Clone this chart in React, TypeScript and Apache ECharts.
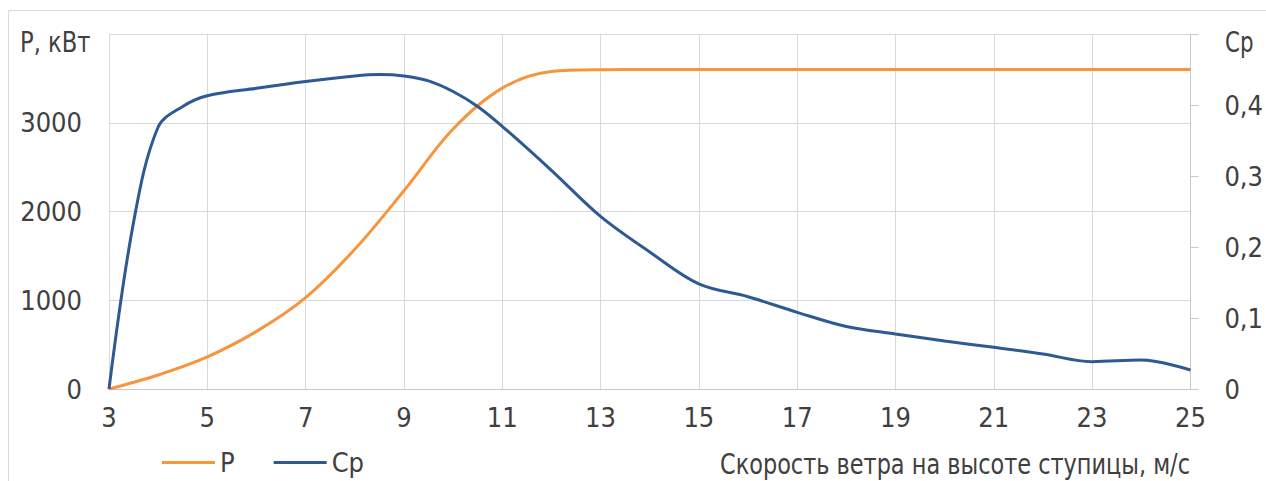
import React, { useEffect, useRef } from "react";
import * as echarts from "echarts";

const windP = [3, 4, 5, 6, 7, 8, 9, 10, 11, 12, 13, 14, 15, 16, 17, 18, 19, 20, 21, 22, 23, 24, 25];
const powerKW = [0, 158, 362, 649, 1030, 1574, 2234, 2930, 3390, 3577, 3598, 3600, 3600, 3600, 3600, 3600, 3600, 3600, 3600, 3600, 3600, 3600, 3600];

const windCp = [3, 3.5, 4, 4.5, 5, 6, 7, 8, 8.5, 9, 9.5, 10, 10.5, 11, 12, 13, 14, 15, 16, 17, 18, 19, 20, 21, 22, 23, 24, 25];
const cpValues = [0, 0.235, 0.369, 0.398, 0.413, 0.4235, 0.433, 0.441, 0.443, 0.441, 0.434, 0.419, 0.398, 0.37, 0.308, 0.243, 0.193, 0.148, 0.13, 0.108, 0.088, 0.0775, 0.0676, 0.0587, 0.0493, 0.0385, 0.0408, 0.0268];

const xTicks = { min: 3, max: 25, interval: 2 };
const leftTicks = { min: 0, max: 4000, interval: 1000 };
const rightTicks = { min: 0, max: 0.5, interval: 0.1 };

const seriesNames = ["P", "Cp"];
const leftTitle = "P, кВт";
const rightTitle = "Cp";
const xTitle = "Скорость ветра на высоте ступицы, м/с";

const FONT = "'Liberation Sans Narrow', 'DejaVu Sans Condensed', 'Roboto Condensed', sans-serif";
const TEXT = "#404040";
const GRID = "#d9d9d9";
const ORANGE = "#F7953E";
const BLUE = "#2D5A92";

export default function App() {
  const ref = useRef<HTMLDivElement>(null);
  useEffect(() => {
    if (!ref.current) return;
    const chart = echarts.init(ref.current, undefined, { renderer: "svg" });
    const pData = windP.map((x, i) => [x, powerKW[i]]);
    const cpData = windCp.map((x, i) => [x, cpValues[i]]);
    chart.setOption({
      animation: false,
      backgroundColor: "#ffffff",
      textStyle: { fontFamily: FONT, color: TEXT },
      grid: { left: 109, right: 74, top: 34, bottom: 92, containLabel: false },
      xAxis: {
        type: "value",
        min: xTicks.min,
        max: xTicks.max,
        interval: xTicks.interval,
        axisLine: { show: true, lineStyle: { color: "#c8c8c8", width: 1 } },
        axisTick: { show: false },
        axisLabel: { color: TEXT, fontFamily: FONT, fontSize: 27, margin: 15 },
        splitLine: { show: true, lineStyle: { color: GRID, width: 1 } },
      },
      yAxis: [
        {
          type: "value",
          min: leftTicks.min,
          max: leftTicks.max,
          interval: leftTicks.interval,
          axisLine: { show: false },
          axisTick: { show: false },
          axisLabel: {
            color: TEXT,
            fontFamily: FONT,
            fontSize: 27,
            margin: 27,
            formatter: (v: number) => (v >= leftTicks.max ? "" : String(v)),
          },
          splitLine: { show: true, lineStyle: { color: GRID, width: 1 } },
        },
        {
          type: "value",
          position: "right",
          min: rightTicks.min,
          max: rightTicks.max,
          interval: rightTicks.interval,
          axisLine: { show: true, lineStyle: { color: "#c8c8c8", width: 1 } },
          axisTick: { show: true, inside: false, length: 8, lineStyle: { color: "#c8c8c8" } },
          axisLabel: {
            color: TEXT,
            fontFamily: FONT,
            fontSize: 27,
            margin: 34,
            formatter: (v: number) => {
              if (v >= rightTicks.max - 1e-9) return "";
              if (Math.abs(v) < 1e-9) return "0";
              return v.toFixed(1).replace(".", ",");
            },
          },
          splitLine: { show: false },
        },
      ],
      legend: {
        left: 162,
        top: 449,
        padding: 0,
        icon: "rect",
        itemWidth: 53,
        itemHeight: 3,
        itemGap: 39,
        textStyle: { color: TEXT, fontFamily: FONT, fontSize: 27, padding: [0, 0, 0, 0] },
        data: seriesNames,
      },
      series: [
        {
          name: seriesNames[0],
          type: "line",
          yAxisIndex: 0,
          data: pData,
          smooth: 0.35,
          showSymbol: false,
          symbol: "none",
          lineStyle: { color: ORANGE, width: 3 },
          itemStyle: { color: ORANGE },
        },
        {
          name: seriesNames[1],
          type: "line",
          yAxisIndex: 1,
          data: cpData,
          smooth: 0.35,
          showSymbol: false,
          symbol: "none",
          lineStyle: { color: BLUE, width: 3 },
          itemStyle: { color: BLUE },
        },
      ],
      graphic: [
        {
          type: "rect",
          shape: { x: 8.5, y: 10.5, width: 1400, height: 600 },
          style: { fill: "none", stroke: GRID, lineWidth: 1 },
          silent: true,
        },
        {
          type: "text",
          x: 20,
          y: 42,
          scaleX: 0.9,
          style: { text: leftTitle, fill: TEXT, font: `28px ${FONT}`, align: "left", verticalAlign: "middle" },
        },
        {
          type: "text",
          x: 1225,
          y: 42,
          scaleX: 0.85,
          style: { text: rightTitle, fill: TEXT, font: `28px ${FONT}`, align: "left", verticalAlign: "middle" },
        },
        {
          type: "text",
          x: 1190,
          y: 464,
          scaleX: 0.89,
          style: { text: xTitle, fill: TEXT, font: `28px ${FONT}`, align: "right", verticalAlign: "middle" },
        },
      ],
    });
    return () => chart.dispose();
  }, []);
  return (
    <div
      ref={ref}
      style={{ position: "absolute", left: 0, top: 0, width: 1266, height: 481 }}
    />
  );
}
